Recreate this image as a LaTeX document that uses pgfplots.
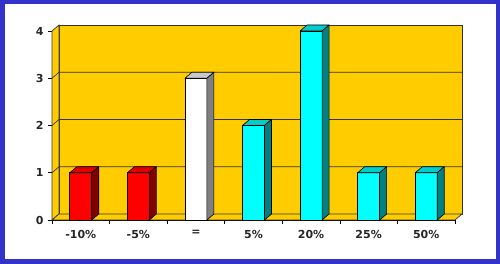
\documentclass[border=0pt]{standalone}
\usepackage{pgfplots}
\pgfplotsset{compat=1.18}
\usepackage{fontspec}
\setmainfont{DejaVu Sans}
\definecolor{wall}{HTML}{FFCC00}
\definecolor{frameblue}{HTML}{3333CC}
\definecolor{redfront}{HTML}{FF0000}
\definecolor{redtop}{HTML}{DD0000}
\definecolor{redside}{HTML}{800000}
\definecolor{whitefront}{HTML}{FFFFFF}
\definecolor{whitetop}{HTML}{C8C8C8}
\definecolor{whiteside}{HTML}{808080}
\definecolor{cyanfront}{HTML}{00FFFF}
\definecolor{cyantop}{HTML}{00CCCC}
\definecolor{cyanside}{HTML}{008080}
\pgfdeclareplotmark{none3d}{}
\pgfplotsset{
  faces/.style 2 args={
    scatter, only marks, mark=none3d, point meta=y,
    visualization depends on=rawy\as\ry,
    scatter/@pre marker code/.code={%
      \pgfscope
      \pgfkeys{/pgf/fpu=false}%
      \pgfmathsetmacro\hh{\ry*47.25}%
      \filldraw[fill=#1,draw=black,line width=0.6pt,line join=round]
        (-11pt,0pt) -- (11pt,0pt) -- (18pt,6pt) -- (-4pt,6pt) -- cycle;
      \filldraw[fill=#2,draw=black,line width=0.6pt,line join=round]
        (11pt,0pt) -- (18pt,6pt) -- (18pt,{6pt-\hh pt}) -- (11pt,{-\hh pt}) -- cycle;
    },
    scatter/@post marker code/.code={\endpgfscope},
  },
  front/.style={ybar, bar shift=0pt, bar width=22pt, fill=#1, draw=black, line width=0.6pt},
}
\begin{document}
\begin{tikzpicture}
\useasboundingbox (0,0) rectangle (500pt,264pt);
\fill[white] (0,0) rectangle (500pt,264pt);
\draw[frameblue, line width=4.5pt] (2.25pt,2.25pt) rectangle (497.75pt,261.75pt);
\begin{axis}[
  at={(52pt,44pt)}, anchor=south west,
  scale only axis, width=403pt, height=189pt,
  xmin=-0.5, xmax=6.5, ymin=0, ymax=4,
  clip=false,
  axis x line*=bottom, axis y line*=left,
  axis line style={black, line width=0.7pt},
  xtick={0,...,6},
  xticklabels={-10\%,-5\%,=,5\%,20\%,25\%,50\%},
  minor xtick={-0.5,0.5,...,6.5},
  major x tick style={draw=none},
  minor x tick style={black, line width=0.7pt},
  ytick={0,1,2,3,4},
  y tick style={black, line width=0.7pt},
  tick align=outside,
  major tick length=4pt, minor tick length=4pt,
  ticklabel style={font=\bfseries\fontsize{11}{13}\selectfont, text=black!85},
  /pgf/number format/assume math mode=true,
  xticklabel style={yshift=-3pt},
  yticklabel style={xshift=-1pt},
]
% walls
\filldraw[fill=wall, draw=black!80, line width=0.7pt]
  ([shift={(7pt,6pt)}]axis cs:-0.5,0) rectangle ([shift={(7pt,6pt)}]axis cs:6.5,4);
\filldraw[fill=wall, draw=black!80, line width=0.7pt]
  (axis cs:-0.5,0) -- (axis cs:-0.5,4) -- ([shift={(7pt,6pt)}]axis cs:-0.5,4) -- ([shift={(7pt,6pt)}]axis cs:-0.5,0) -- cycle;
\filldraw[fill=wall, draw=black!80, line width=0.7pt]
  (axis cs:-0.5,0) -- (axis cs:6.5,0) -- ([shift={(7pt,6pt)}]axis cs:6.5,0) -- ([shift={(7pt,6pt)}]axis cs:-0.5,0) -- cycle;
\pgfplotsinvokeforeach{1,2,3}{
  \draw[black!80, line width=0.7pt] (axis cs:-0.5,#1) -- ([shift={(7pt,6pt)}]axis cs:-0.5,#1) -- ([shift={(7pt,6pt)}]axis cs:6.5,#1);
}
% bars
\addplot[front=redfront] coordinates {(0,1) (1,1)};
\addplot[faces={redtop}{redside}] coordinates {(0,1) (1,1)};
\addplot[front=whitefront] coordinates {(2,3)};
\addplot[faces={whitetop}{whiteside}] coordinates {(2,3)};
\addplot[front=cyanfront] coordinates {(3,2) (4,4) (5,1) (6,1)};
\addplot[faces={cyantop}{cyanside}] coordinates {(3,2) (4,4) (5,1) (6,1)};
\end{axis}
\end{tikzpicture}
\end{document}
